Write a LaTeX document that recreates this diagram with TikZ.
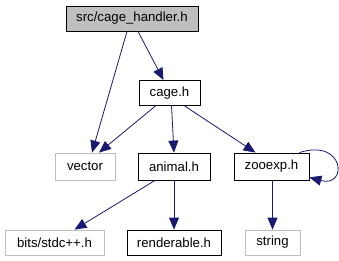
\documentclass[tikz,border=0pt]{standalone}
\usepackage{fontspec}
\setmainfont{Liberation Sans}
\usepackage{xcolor}
\usetikzlibrary{arrows.meta,positioning,calc}

\definecolor{edgeblue}{HTML}{191970}
\definecolor{extgray}{HTML}{BFBFBF}

\begin{document}
\begin{tikzpicture}[x=1pt, y=-1pt,
    every node/.style={font=\fontsize{13.2}{15}\selectfont, inner sep=0pt, minimum height=25pt},
    hdr/.style={draw=black, thick, rectangle},
    ext/.style={draw=extgray, thick, rectangle},
    dep/.style={draw=edgeblue, thick, -{Triangle[length=12pt,width=10pt]}}]
    \useasboundingbox (0,0) rectangle (339,261);

    % Top level header
    \node[hdr, fill=extgray, minimum width=132pt] (handler) at (132,18.5) {src/cage\_handler.h};

    % Cage header
    \node[hdr, minimum width=61pt] (cage) at (169.5,93) {cage.h};

    % Second row
    \node[ext, minimum width=60pt, minimum height=27pt] (vector) at (85,166.5) {vector};
    \node[hdr, minimum width=72pt, minimum height=27pt] (animal) at (174,166.5) {animal.h};
    \node[hdr, minimum width=75pt, minimum height=27pt] (zooexp) at (271.5,166.5) {zooexp.h};

    % Bottom row
    \node[ext, minimum width=99pt] (stdcpp) at (54.5,242.5) {bits/stdc++.h};
    \node[hdr, minimum width=94pt] (render) at (174,242.5) {renderable.h};
    \node[ext, minimum width=55pt] (string) at (272.5,242.5) {string};

    % Includes
    \draw[dep] (handler.south) ++(-5,0) -- ($(vector.north)+(7,0)$);
    \draw[dep] (handler.south) ++(6,0) -- ($(cage.north)+(-6,0)$);
    \draw[dep] (cage.south) ++(-14,0) -- ($(vector.north)+(14,0)$);
    \draw[dep] (cage.south) ++(2,0) -- (animal.north);
    \draw[dep] (cage.south) ++(15,0) -- ($(zooexp.north)+(-16,0)$);
    \draw[dep] (animal.south) ++(-19,0) -- ($(stdcpp.north)+(20,0)$);
    \draw[dep] (animal.south) -- (render.north);
    \draw[dep] (zooexp.south) ++(1,0) -- (string.north);
    \draw[dep] ($(zooexp.north east)+(-10,0)$) .. controls (345,138) and (348,188) .. ($(zooexp.south east)+(0,-3)$);
\end{tikzpicture}
\end{document}
